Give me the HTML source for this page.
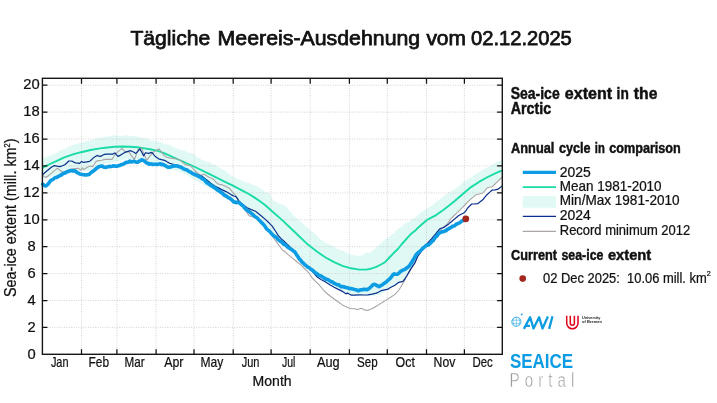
<!DOCTYPE html>
<html lang="de"><head><meta charset="utf-8"><title>Tägliche Meereis-Ausdehnung</title>
<style>html,body{margin:0;padding:0;background:#fff;overflow:hidden}body{width:717px;height:403px;font-family:"Liberation Sans",sans-serif}svg{display:block;will-change:transform}text{stroke:#111;stroke-width:.24px}text.b{stroke-width:.45px}</style>
</head><body>
<svg width="717" height="403" viewBox="0 0 717 403" font-family="Liberation Sans, sans-serif">
<rect x="0" y="0" width="717" height="403" fill="#ffffff"/>
<polygon points="42.2,158.5 43.5,157.6 44.7,157.7 46.0,157.1 47.3,156.3 48.5,156.0 49.8,155.5 51.0,155.2 52.3,154.8 53.6,153.8 54.8,153.3 56.1,153.3 57.4,152.4 58.6,151.7 59.9,150.2 61.2,150.0 62.4,149.7 63.7,148.9 65.0,148.9 66.2,148.4 67.5,147.2 68.7,146.6 70.0,146.4 71.3,146.1 72.5,145.1 73.8,144.4 75.1,144.2 76.3,143.7 77.6,143.5 78.9,143.3 80.1,143.1 81.4,142.6 82.6,142.3 83.9,141.9 85.2,141.8 86.4,141.4 87.7,140.9 89.0,141.1 90.2,140.6 91.5,140.3 92.8,139.6 94.0,139.7 95.3,139.2 96.6,138.2 97.8,137.9 99.1,138.0 100.3,137.8 101.6,137.7 102.9,137.2 104.1,137.3 105.4,137.0 106.7,136.5 107.9,136.5 109.2,136.5 110.5,136.2 111.7,135.8 113.0,135.6 114.2,135.0 115.5,135.3 116.8,135.8 118.0,135.7 119.3,135.7 120.6,136.0 121.8,135.9 123.1,135.8 124.4,135.4 125.6,135.3 126.9,135.4 128.2,135.8 129.4,135.8 130.7,135.9 131.9,136.1 133.2,135.8 134.5,135.9 135.7,136.5 137.0,136.7 138.3,136.8 139.5,137.1 140.8,137.3 142.1,137.7 143.3,138.2 144.6,138.1 145.8,138.0 147.1,138.9 148.4,139.2 149.6,140.1 150.9,140.8 152.2,140.7 153.4,140.8 154.7,140.8 156.0,141.2 157.2,141.7 158.5,141.2 159.8,141.9 161.0,142.4 162.3,143.0 163.5,143.5 164.8,144.1 166.1,144.3 167.3,144.6 168.6,144.8 169.9,144.9 171.1,146.0 172.4,146.5 173.7,146.9 174.9,147.7 176.2,148.3 177.4,148.6 178.7,149.0 180.0,149.5 181.2,149.9 182.5,150.3 183.8,150.6 185.0,150.7 186.3,151.4 187.6,151.8 188.8,152.6 190.1,153.1 191.4,153.3 192.6,153.5 193.9,153.8 195.1,154.8 196.4,156.6 197.7,157.6 198.9,158.1 200.2,158.9 201.5,159.4 202.7,160.3 204.0,160.4 205.3,160.7 206.5,161.4 207.8,161.7 209.0,162.1 210.3,162.7 211.6,163.5 212.8,163.8 214.1,164.4 215.4,165.5 216.6,166.0 217.9,166.7 219.2,167.5 220.4,167.9 221.7,168.9 223.0,169.6 224.2,170.2 225.5,170.8 226.7,172.3 228.0,173.2 229.3,174.1 230.5,175.4 231.8,176.2 233.1,176.3 234.3,176.9 235.6,177.6 236.9,178.5 238.1,178.7 239.4,179.6 240.6,180.1 241.9,180.6 243.2,180.9 244.4,181.9 245.7,182.2 247.0,182.4 248.2,182.7 249.5,183.5 250.8,183.7 252.0,184.4 253.3,184.8 254.6,185.6 255.8,185.8 257.1,186.5 258.3,187.6 259.6,188.1 260.9,188.5 262.1,189.7 263.4,190.2 264.7,191.5 265.9,192.1 267.2,192.5 268.5,193.1 269.7,193.5 271.0,196.7 272.2,198.9 273.5,200.7 274.8,201.6 276.0,201.9 277.3,202.1 278.6,203.2 279.8,203.8 281.1,204.1 282.4,204.5 283.6,205.0 284.9,205.5 286.2,206.2 287.4,208.2 288.7,209.7 289.9,211.2 291.2,212.5 292.5,214.3 293.7,215.4 295.0,216.8 296.3,217.7 297.5,219.2 298.8,220.3 300.1,220.7 301.3,222.0 302.6,223.2 303.8,224.7 305.1,225.7 306.4,226.5 307.6,227.5 308.9,228.8 310.2,230.0 311.4,231.1 312.7,231.7 314.0,233.1 315.2,234.0 316.5,235.0 317.8,236.8 319.0,237.7 320.3,239.4 321.5,239.8 322.8,240.8 324.1,242.2 325.3,242.5 326.6,243.4 327.9,243.8 329.1,244.6 330.4,244.8 331.7,245.4 332.9,246.1 334.2,247.2 335.4,247.7 336.7,248.5 338.0,249.1 339.2,249.1 340.5,250.0 341.8,250.3 343.0,250.8 344.3,251.3 345.6,252.4 346.8,252.8 348.1,253.4 349.4,253.5 350.6,254.2 351.9,254.8 353.1,254.9 354.4,255.4 355.7,255.5 356.9,255.6 358.2,255.8 359.5,256.2 360.7,255.5 362.0,255.3 363.3,254.4 364.5,253.4 365.8,252.8 367.0,252.9 368.3,252.6 369.6,253.3 370.8,251.9 372.1,250.9 373.4,250.4 374.6,248.7 375.9,247.7 377.2,247.2 378.4,245.8 379.7,244.6 381.0,243.4 382.2,242.2 383.5,241.2 384.7,239.5 386.0,239.1 387.3,237.8 388.5,237.3 389.8,236.4 391.1,235.1 392.3,234.2 393.6,233.4 394.9,231.9 396.1,231.0 397.4,229.4 398.6,228.3 399.9,228.0 401.2,226.4 402.4,225.7 403.7,224.6 405.0,223.6 406.2,222.6 407.5,222.5 408.8,221.9 410.0,221.3 411.3,219.8 412.6,219.0 413.8,218.3 415.1,217.7 416.3,216.3 417.6,215.3 418.9,214.2 420.1,212.8 421.4,212.0 422.7,211.1 423.9,210.4 425.2,209.5 426.5,208.8 427.7,208.5 429.0,207.2 430.2,206.5 431.5,205.7 432.8,205.0 434.0,203.7 435.3,202.7 436.6,201.6 437.8,200.6 439.1,200.0 440.4,199.0 441.6,197.6 442.9,196.7 444.2,195.8 445.4,194.9 446.7,194.1 447.9,193.1 449.2,192.2 450.5,191.7 451.7,190.8 453.0,190.4 454.3,189.3 455.5,188.2 456.8,187.6 458.1,186.4 459.3,185.7 460.6,184.4 461.8,183.7 463.1,182.2 464.4,181.6 465.6,180.9 466.9,179.5 468.2,179.3 469.4,177.9 470.7,177.4 472.0,176.8 473.2,175.9 474.5,174.8 475.8,173.8 477.0,173.4 478.3,172.9 479.5,171.7 480.8,171.3 482.1,170.1 483.3,169.8 484.6,168.5 485.9,167.9 487.1,167.6 488.4,166.8 489.7,166.3 490.9,165.6 492.2,164.9 493.4,164.2 494.7,163.3 496.0,162.8 497.2,161.9 498.5,161.6 499.8,160.9 501.0,159.9 502.4,159.3 502.4,177.4 501.0,178.7 499.8,179.6 498.5,180.9 497.2,182.0 496.0,182.8 494.7,184.2 493.4,184.9 492.2,186.0 490.9,186.7 489.7,187.0 488.4,187.5 487.1,188.1 485.9,189.2 484.6,190.7 483.3,192.0 482.1,192.9 480.8,193.1 479.5,193.3 478.3,193.7 477.0,194.7 475.8,194.7 474.5,196.0 473.2,197.1 472.0,197.9 470.7,199.2 469.4,200.5 468.2,201.5 466.9,203.2 465.6,204.1 464.4,205.6 463.1,206.9 461.8,207.9 460.6,209.5 459.3,210.8 458.1,211.6 456.8,213.2 455.5,214.5 454.3,215.5 453.0,216.8 451.7,218.2 450.5,219.0 449.2,221.4 447.9,223.3 446.7,224.6 445.4,225.7 444.2,226.7 442.9,227.3 441.6,228.4 440.4,229.4 439.1,230.4 437.8,231.7 436.6,233.2 435.3,234.4 434.0,236.2 432.8,237.6 431.5,239.0 430.2,240.6 429.0,241.8 427.7,243.7 426.5,245.0 425.2,246.7 423.9,248.1 422.7,249.4 421.4,250.5 420.1,252.3 418.9,254.3 417.6,256.2 416.3,259.6 415.1,262.3 413.8,264.1 412.6,266.2 411.3,268.0 410.0,270.3 408.8,272.6 407.5,274.9 406.2,276.5 405.0,278.5 403.7,280.1 402.4,281.7 401.2,281.7 399.9,282.3 398.6,282.7 397.4,283.4 396.1,284.7 394.9,285.8 393.6,286.2 392.3,286.6 391.1,287.5 389.8,288.1 388.5,289.1 387.3,290.0 386.0,290.6 384.7,291.6 383.5,292.5 382.2,293.8 381.0,294.8 379.7,295.0 378.4,294.8 377.2,295.1 375.9,295.6 374.6,295.5 373.4,296.1 372.1,295.8 370.8,295.8 369.6,296.3 368.3,296.1 367.0,296.2 365.8,296.0 364.5,295.8 363.3,295.6 362.0,295.7 360.7,295.5 359.5,295.5 358.2,295.7 356.9,295.6 355.7,295.4 354.4,295.4 353.1,295.0 351.9,294.9 350.6,294.5 349.4,294.3 348.1,293.6 346.8,293.0 345.6,292.6 344.3,292.3 343.0,291.8 341.8,291.1 340.5,290.0 339.2,289.7 338.0,289.2 336.7,288.3 335.4,287.7 334.2,286.6 332.9,285.8 331.7,285.0 330.4,284.3 329.1,283.7 327.9,282.7 326.6,281.9 325.3,281.2 324.1,280.1 322.8,279.5 321.5,278.2 320.3,277.9 319.0,276.7 317.8,275.8 316.5,274.7 315.2,274.0 314.0,272.7 312.7,271.9 311.4,270.8 310.2,269.9 308.9,268.6 307.6,267.8 306.4,266.8 305.1,265.3 303.8,264.0 302.6,263.2 301.3,261.6 300.1,260.6 298.8,259.2 297.5,257.0 296.3,255.4 295.0,253.8 293.7,252.2 292.5,251.2 291.2,250.5 289.9,249.2 288.7,248.3 287.4,247.6 286.2,246.7 284.9,245.5 283.6,244.9 282.4,243.8 281.1,242.7 279.8,241.9 278.6,241.0 277.3,240.0 276.0,238.5 274.8,237.7 273.5,236.4 272.2,235.3 271.0,234.3 269.7,233.0 268.5,231.9 267.2,230.7 265.9,229.1 264.7,227.7 263.4,226.5 262.1,224.6 260.9,223.3 259.6,221.8 258.3,220.7 257.1,219.9 255.8,218.7 254.6,217.5 253.3,216.7 252.0,215.7 250.8,214.5 249.5,213.5 248.2,212.2 247.0,211.3 245.7,210.1 244.4,209.4 243.2,208.3 241.9,207.2 240.6,205.8 239.4,204.8 238.1,203.6 236.9,203.3 235.6,202.8 234.3,202.5 233.1,202.1 231.8,202.0 230.5,200.8 229.3,200.2 228.0,199.4 226.7,198.4 225.5,197.9 224.2,196.7 223.0,196.1 221.7,195.2 220.4,194.5 219.2,193.4 217.9,193.1 216.6,192.1 215.4,191.2 214.1,190.6 212.8,190.1 211.6,189.2 210.3,188.6 209.0,188.1 207.8,187.6 206.5,186.9 205.3,186.3 204.0,185.5 202.7,184.8 201.5,183.8 200.2,182.8 198.9,182.3 197.7,181.4 196.4,181.0 195.1,180.2 193.9,179.3 192.6,178.4 191.4,177.7 190.1,177.4 188.8,176.0 187.6,175.5 186.3,174.8 185.0,173.8 183.8,173.2 182.5,173.0 181.2,172.2 180.0,171.5 178.7,171.4 177.4,170.5 176.2,170.9 174.9,170.2 173.7,170.4 172.4,169.9 171.1,169.8 169.9,169.5 168.6,169.8 167.3,169.5 166.1,169.6 164.8,168.5 163.5,167.7 162.3,167.2 161.0,166.2 159.8,165.2 158.5,165.1 157.2,164.2 156.0,163.7 154.7,163.4 153.4,162.6 152.2,162.7 150.9,162.0 149.6,162.2 148.4,161.7 147.1,161.2 145.8,160.2 144.6,159.9 143.3,159.4 142.1,159.1 140.8,159.1 139.5,159.3 138.3,159.6 137.0,159.6 135.7,159.5 134.5,159.4 133.2,159.4 131.9,159.5 130.7,159.1 129.4,159.4 128.2,158.9 126.9,159.3 125.6,159.2 124.4,159.9 123.1,160.0 121.8,160.3 120.6,160.8 119.3,161.3 118.0,161.6 116.8,161.7 115.5,161.9 114.2,162.4 113.0,162.6 111.7,162.6 110.5,163.1 109.2,163.2 107.9,163.7 106.7,163.7 105.4,163.9 104.1,164.3 102.9,164.9 101.6,165.4 100.3,165.5 99.1,166.4 97.8,166.9 96.6,167.3 95.3,168.3 94.0,169.0 92.8,169.8 91.5,170.1 90.2,170.5 89.0,170.9 87.7,170.8 86.4,171.2 85.2,171.5 83.9,171.3 82.6,171.1 81.4,171.3 80.1,171.2 78.9,171.1 77.6,171.1 76.3,170.8 75.1,170.7 73.8,170.5 72.5,170.6 71.3,170.9 70.0,170.7 68.7,171.0 67.5,171.4 66.2,171.7 65.0,172.0 63.7,172.8 62.4,173.3 61.2,173.7 59.9,174.0 58.6,174.4 57.4,174.6 56.1,175.2 54.8,175.6 53.6,176.0 52.3,176.2 51.0,176.8 49.8,177.2 48.5,177.8 47.3,177.8 46.0,178.3 44.7,178.8 43.5,178.8 42.2,178.5" fill="#e0f9f5"/>
<path d="M42.4,327.4H502.3M42.4,300.5H502.3M42.4,273.6H502.3M42.4,246.7H502.3M42.4,219.8H502.3M42.4,192.9H502.3M42.4,165.9H502.3M42.4,139.0H502.3M42.4,112.1H502.3M42.4,85.2H502.3M81.5,78.3V354.4M116.9,78.3V354.4M156.1,78.3V354.4M194.0,78.3V354.4M233.2,78.3V354.4M271.1,78.3V354.4M310.2,78.3V354.4M349.4,78.3V354.4M387.3,78.3V354.4M426.5,78.3V354.4M464.4,78.3V354.4" stroke="#c9c9c9" stroke-width="0.8" stroke-dasharray="1,1.4" fill="none"/>
<polyline points="42.2,168.2 43.4,167.4 50.0,164.0 56.9,160.8 65.0,157.2 73.8,154.2 81.0,152.2 90.6,150.0 100.0,148.4 107.5,147.5 114.9,146.8 122.0,146.5 129.8,146.7 137.0,147.3 144.7,148.4 150.0,149.3 156.6,150.6 160.1,151.6 164.6,153.4 175.0,158.0 184.0,162.0 193.9,166.5 209.1,173.9 226.0,182.3 231.9,185.2 242.8,190.8 248.8,194.0 254.6,197.6 260.0,201.3 265.6,205.5 271.2,210.5 282.5,220.4 291.0,228.5 299.4,236.5 307.9,244.6 317.2,251.8 325.6,257.5 334.1,262.2 342.5,265.9 351.0,268.3 359.4,269.6 366.1,269.6 371.0,268.7 376.3,266.9 381.0,264.5 385.0,262.2 389.0,258.0 393.4,253.3 397.9,249.0 401.9,244.0 410.3,234.6 415.0,230.8 418.8,227.0 426.9,220.0 431.3,217.6 436.5,214.8 443.3,210.0 445.6,208.2 454.1,201.5 462.5,194.2 471.0,187.1 479.4,181.7 487.8,177.0 496.3,172.8 502.4,170.3" fill="none" stroke="#19dba6" stroke-width="1.9" stroke-linejoin="round"/>
<polyline points="42.8,175.5 44.5,176.6 46.0,177.5 49.0,175.2 51.9,172.8 54.7,170.4 57.4,168.3 60.0,170.2 62.8,172.3 66.0,171.2 69.0,169.7 72.8,168.8 75.8,168.5 78.7,168.3 80.7,170.3 82.2,167.8 83.7,169.6 85.7,168.2 87.7,167.0 90.6,166.0 92.6,166.6 94.4,164.0 96.1,161.4 98.8,160.6 101.6,160.2 105.0,159.4 112.0,159.4 113.5,157.0 114.9,154.4 118.4,151.3 121.9,148.4 123.4,150.0 124.9,151.4 128.8,151.9 131.5,155.6 134.3,159.6 136.3,154.5 138.3,149.4 141.7,148.4 144.2,154.4 146.7,160.3 149.7,156.3 152.7,152.4 155.9,150.6 159.1,148.9 161.3,151.9 163.6,154.9 166.6,157.3 170.8,158.1 175.0,158.8 179.5,159.7 182.4,162.2 185.4,164.6 190.5,165.8 193.9,169.5 197.3,173.0 200.6,175.2 204.0,174.2 206.5,175.8 209.1,177.3 211.6,178.6 214.1,179.8 215.8,181.8 217.5,183.7 220.0,184.4 222.6,184.9 226.0,186.5 229.3,188.2 231.9,191.4 234.4,194.1 236.1,196.0 238.2,199.4 240.3,202.7 244.5,209.0 248.8,215.4 251.3,216.7 255.0,216.8 260.0,221.0 265.0,226.6 270.0,232.2 272.5,235.8 274.9,239.9 278.7,245.0 282.5,250.0 285.1,251.8 288.5,254.9 291.9,257.7 296.0,261.0 300.3,264.4 304.5,268.5 308.8,272.8 312.1,277.9 315.5,281.3 318.9,284.7 322.2,288.5 325.6,292.3 329.8,295.7 334.1,299.0 338.3,302.0 342.5,304.9 346.7,306.9 351.0,308.8 354.3,308.8 357.7,309.5 361.1,308.3 364.0,309.6 367.0,310.5 370.0,309.6 372.9,308.3 376.2,306.3 379.6,304.1 383.0,302.0 386.4,299.9 390.7,297.3 395.0,294.4 398.9,290.0 401.4,286.0 403.9,281.8 406.8,276.2 410.8,269.2 414.8,263.2 417.8,256.4 422.0,250.6 427.9,242.3 431.9,238.6 434.9,235.2 438.4,232.0 441.8,228.9 444.8,226.2 447.8,223.4 449.2,221.2 450.7,218.9 452.7,217.0 454.7,215.0 456.7,213.2 459.1,210.8 462.5,207.4 465.9,204.0 468.4,201.4 471.0,198.9 473.5,196.8 476.0,194.7 479.4,194.0 482.8,193.0 484.9,190.6 487.0,188.0 489.5,187.3 492.0,186.8 495.0,184.0 498.0,181.2 500.2,179.0 502.4,177.0" fill="none" stroke="#aaa4a4" stroke-width="1.1" stroke-linejoin="round"/>
<polyline points="42.8,174.5 45.0,172.5 48.0,170.0 51.0,167.5 53.9,165.7 57.0,166.2 59.9,166.6 62.5,165.8 64.8,164.8 66.8,163.0 68.8,161.0 70.8,161.0 72.8,161.4 74.3,162.4 75.7,163.0 77.7,163.1 79.7,163.3 80.7,162.2 81.7,161.6 82.7,162.2 83.7,162.3 86.6,161.9 89.6,161.4 91.5,159.8 93.0,158.2 94.6,156.9 97.1,155.4 98.8,156.2 100.6,156.4 102.5,155.2 104.5,154.4 107.0,154.2 110.0,154.0 112.9,154.1 114.9,152.9 116.4,154.6 117.9,156.4 120.0,155.4 122.5,153.8 124.9,152.4 128.0,151.4 130.8,150.7 133.5,152.0 135.8,153.4 137.8,151.4 139.8,148.9 141.8,152.2 143.7,155.9 144.7,154.0 145.7,152.7 147.2,153.2 148.7,153.4 150.2,152.8 151.7,152.4 153.2,154.0 154.7,155.9 156.7,157.5 158.6,158.8 161.5,159.6 164.6,160.3 167.0,161.8 169.6,163.3 172.3,164.0 175.0,164.8 178.0,166.2 182.0,167.5 186.0,169.5 190.0,171.5 194.0,173.3 198.0,174.8 202.3,176.4 206.5,179.8 210.8,183.2 214.0,185.4 217.5,187.4 221.7,189.6 226.0,191.6 231.0,194.6 233.8,196.0 236.1,196.8 237.4,198.6 238.6,201.0 243.0,204.6 247.1,207.8 251.3,209.6 255.5,211.2 260.5,215.2 265.6,219.6 269.0,222.8 272.4,226.4 275.4,231.0 278.3,235.6 281.2,238.6 284.2,241.5 289.0,246.0 294.3,251.2 300.3,259.6 308.8,267.6 313.0,272.0 317.2,277.1 321.4,279.7 325.6,282.1 329.8,284.7 334.1,287.2 338.3,289.4 342.5,291.4 344.5,292.8 345.9,293.9 347.6,293.1 349.4,294.2 351.0,295.1 355.0,295.2 359.4,294.8 363.6,295.0 367.8,294.8 372.0,294.1 376.3,293.1 378.8,292.0 381.3,290.6 384.7,289.8 388.1,289.2 390.0,287.7 394.9,285.3 398.9,282.3 402.9,281.3 404.8,279.0 406.8,275.8 408.8,272.4 410.8,268.9 412.8,265.8 414.8,262.9 416.3,259.5 417.8,256.0 419.8,253.5 422.5,249.5 425.5,245.8 428.9,241.8 431.9,238.4 434.9,234.8 437.4,231.7 439.8,228.9 441.8,228.0 443.8,227.4 446.3,225.7 448.8,223.9 451.7,221.5 454.7,218.9 456.7,217.2 458.7,215.5 461.2,214.2 463.7,213.0 465.5,211.4 467.6,208.2 469.6,206.0 471.8,204.0 474.7,203.9 477.7,203.7 480.2,201.8 482.8,199.8 484.9,197.2 487.0,194.7 489.5,192.4 492.0,190.2 495.0,189.8 498.0,189.2 500.2,187.6 502.4,185.8" fill="none" stroke="#0b2f8c" stroke-width="1.2" stroke-linejoin="round"/>
<polyline points="42.8,184.2 44.1,185.3 45.3,186.0 46.6,185.5 47.9,184.3 49.1,182.8 50.4,180.9 51.6,179.9 52.9,179.6 54.2,178.2 55.4,177.5 56.7,177.5 58.0,176.5 59.2,176.1 60.5,175.2 61.8,174.7 63.0,173.6 64.3,173.3 65.6,172.8 66.8,171.8 68.1,171.5 69.3,171.2 70.6,170.5 71.9,170.9 73.1,170.9 74.4,170.7 75.7,171.1 76.9,172.6 78.2,173.0 79.5,173.8 80.7,174.3 82.0,174.3 83.2,174.8 84.5,174.7 85.8,175.1 87.0,174.8 88.3,174.7 89.6,174.1 90.8,172.7 92.1,171.9 93.4,170.8 94.6,170.2 95.9,168.7 97.2,167.9 98.4,166.8 99.7,166.6 100.9,166.1 102.2,166.1 103.5,166.9 104.7,167.2 106.0,167.4 107.3,166.8 108.5,166.7 109.8,166.3 111.1,166.5 112.3,166.3 113.6,165.7 114.8,166.1 116.1,166.2 117.4,166.1 118.6,165.6 119.9,165.5 121.2,164.5 122.4,164.5 123.7,163.8 125.0,163.1 126.2,162.3 127.5,162.4 128.8,162.0 130.0,161.0 131.3,161.9 132.5,161.8 133.8,161.4 135.1,161.5 136.3,162.2 137.6,162.2 138.9,161.2 140.1,160.9 141.4,159.9 142.7,160.1 143.9,160.6 145.2,161.9 146.4,162.8 147.7,163.3 149.0,164.1 150.2,163.9 151.5,164.0 152.8,164.5 154.0,164.2 155.3,164.3 156.6,164.4 157.8,164.4 159.1,164.0 160.4,163.9 161.6,164.6 162.9,164.2 164.1,165.1 165.4,165.7 166.7,166.5 167.9,167.1 169.2,167.3 170.5,167.0 171.7,166.6 173.0,166.2 174.3,165.8 175.5,166.0 176.8,165.9 178.0,166.1 179.3,166.8 180.6,167.0 181.8,167.5 183.1,168.7 184.4,169.0 185.6,169.7 186.9,169.9 188.2,170.9 189.4,171.7 190.7,172.0 192.0,173.2 193.2,173.9 194.5,174.1 195.7,175.1 197.0,175.5 198.3,176.3 199.5,176.7 200.8,177.6 202.1,178.7 203.3,179.1 204.6,180.2 205.9,181.8 207.1,183.1 208.4,183.5 209.6,184.6 210.9,185.5 212.2,186.1 213.4,186.9 214.7,187.8 216.0,188.7 217.2,189.8 218.5,190.5 219.8,191.4 221.0,192.6 222.3,193.0 223.6,194.5 224.8,195.5 226.1,196.0 227.3,196.8 228.6,197.9 229.9,198.3 231.1,199.3 232.4,200.6 233.7,201.9 234.9,202.1 236.2,202.7 237.5,202.3 238.7,202.5 240.0,203.3 241.2,204.7 242.5,205.4 243.8,206.8 245.0,208.4 246.3,209.7 247.6,210.5 248.8,211.4 250.1,212.3 251.4,213.6 252.6,214.3 253.9,215.7 255.2,216.8 256.4,217.3 257.7,218.5 258.9,220.0 260.2,221.1 261.5,222.6 262.7,223.7 264.0,225.0 265.3,226.8 266.5,228.9 267.8,229.9 269.1,230.8 270.3,232.2 271.6,233.7 272.8,234.9 274.1,236.3 275.4,236.7 276.6,237.6 277.9,239.4 279.2,240.3 280.4,241.4 281.7,242.0 283.0,243.5 284.2,244.5 285.5,244.9 286.8,246.3 288.0,247.3 289.3,248.1 290.5,249.0 291.8,249.7 293.1,250.7 294.3,251.5 295.6,253.1 296.9,255.3 298.1,256.8 299.4,259.1 300.7,260.2 301.9,262.0 303.2,263.0 304.4,264.3 305.7,265.4 307.0,266.5 308.2,267.4 309.5,267.9 310.8,269.4 312.0,269.8 313.3,270.9 314.6,272.1 315.8,273.0 317.1,273.8 318.4,275.0 319.6,275.5 320.9,276.0 322.1,276.6 323.4,277.8 324.7,278.3 325.9,279.2 327.2,279.4 328.5,279.9 329.7,280.8 331.0,281.7 332.3,281.8 333.5,282.9 334.8,283.7 336.0,284.2 337.3,284.8 338.6,284.7 339.8,285.8 341.1,286.6 342.4,286.5 343.6,286.9 344.9,287.1 346.2,287.5 347.4,287.8 348.7,288.2 350.0,288.8 351.2,288.6 352.5,288.9 353.7,289.3 355.0,289.6 356.3,289.7 357.5,290.6 358.8,290.6 360.1,289.9 361.3,290.0 362.6,289.6 363.9,289.4 365.1,289.4 366.4,289.6 367.6,289.5 368.9,288.6 370.2,287.6 371.4,286.4 372.7,285.0 374.0,284.4 375.2,284.5 376.5,285.4 377.8,286.0 379.0,286.6 380.3,285.9 381.6,285.2 382.8,284.5 384.1,283.3 385.3,282.7 386.6,281.6 387.9,280.4 389.1,279.4 390.4,278.2 391.7,276.5 392.9,274.7 394.2,273.9 395.5,274.2 396.7,274.3 398.0,274.0 399.2,272.9 400.5,271.4 401.8,270.8 403.0,270.0 404.3,269.6 405.6,268.9 406.8,267.8 408.1,267.1 409.4,265.8 410.6,263.9 411.9,262.1 413.2,259.7 414.4,257.9 415.7,255.4 416.9,253.8 418.2,252.7 419.5,251.6 420.7,250.5 422.0,249.3 423.3,247.8 424.5,247.0 425.8,245.7 427.1,245.1 428.3,245.1 429.6,244.0 430.8,242.8 432.1,241.3 433.4,240.4 434.6,238.4 435.9,236.7 437.2,235.8 438.4,233.7 439.7,232.9 441.0,232.2 442.2,231.8 443.5,231.6 444.8,231.0 446.0,230.8 447.3,229.3 448.5,229.0 449.8,228.0 451.1,227.4 452.3,226.2 453.6,226.1 454.9,225.6 456.1,224.3 457.4,223.8 458.7,223.2 459.9,222.7 461.2,221.5 462.4,220.8 463.7,220.2 464.6,219.8" fill="none" stroke="#0c9ce4" stroke-width="3.6" stroke-linejoin="round" stroke-linecap="round"/>
<circle cx="465.8" cy="218.8" r="3.4" fill="#a3271d"/>
<rect x="42.4" y="78.3" width="459.9" height="276.0" fill="none" stroke="#161616" stroke-width="1.4"/>
<path d="M42.4,327.4h5M502.3,327.4h-5.2M42.4,300.5h5M502.3,300.5h-5.2M42.4,273.6h5M502.3,273.6h-5.2M42.4,246.7h5M502.3,246.7h-5.2M42.4,219.8h5M502.3,219.8h-5.2M42.4,192.9h5M502.3,192.9h-5.2M42.4,165.9h5M502.3,165.9h-5.2M42.4,139.0h5M502.3,139.0h-5.2M42.4,112.1h5M502.3,112.1h-5.2M42.4,85.2h5M502.3,85.2h-5.2M81.5,78.3v5.4M81.5,354.4v-5.2M116.9,78.3v5.4M116.9,354.4v-5.2M156.1,78.3v5.4M156.1,354.4v-5.2M194.0,78.3v5.4M194.0,354.4v-5.2M233.2,78.3v5.4M233.2,354.4v-5.2M271.1,78.3v5.4M271.1,354.4v-5.2M310.2,78.3v5.4M310.2,354.4v-5.2M349.4,78.3v5.4M349.4,354.4v-5.2M387.3,78.3v5.4M387.3,354.4v-5.2M426.5,78.3v5.4M426.5,354.4v-5.2M464.4,78.3v5.4M464.4,354.4v-5.2" stroke="#111" stroke-width="1.25" fill="none"/>
<text x="27.4" y="358.6" font-size="15.1" fill="#111" textLength="8.2" lengthAdjust="spacingAndGlyphs">0</text>
<text x="27.4" y="331.6" font-size="15.1" fill="#111" textLength="8.2" lengthAdjust="spacingAndGlyphs">2</text>
<text x="27.4" y="304.7" font-size="15.1" fill="#111" textLength="8.2" lengthAdjust="spacingAndGlyphs">4</text>
<text x="27.4" y="277.8" font-size="15.1" fill="#111" textLength="8.2" lengthAdjust="spacingAndGlyphs">6</text>
<text x="27.4" y="250.9" font-size="15.1" fill="#111" textLength="8.2" lengthAdjust="spacingAndGlyphs">8</text>
<text x="23.3" y="224.0" font-size="15.1" fill="#111" textLength="16.4" lengthAdjust="spacingAndGlyphs">10</text>
<text x="23.3" y="197.1" font-size="15.1" fill="#111" textLength="16.4" lengthAdjust="spacingAndGlyphs">12</text>
<text x="23.3" y="170.1" font-size="15.1" fill="#111" textLength="16.4" lengthAdjust="spacingAndGlyphs">14</text>
<text x="23.3" y="143.2" font-size="15.1" fill="#111" textLength="16.4" lengthAdjust="spacingAndGlyphs">16</text>
<text x="23.3" y="116.3" font-size="15.1" fill="#111" textLength="16.4" lengthAdjust="spacingAndGlyphs">18</text>
<text x="23.3" y="89.4" font-size="15.1" fill="#111" textLength="16.4" lengthAdjust="spacingAndGlyphs">20</text>
<text x="50.9" y="367.0" font-size="14.5" fill="#111" textLength="17.6" lengthAdjust="spacingAndGlyphs">Jan</text>
<text x="88.5" y="367.0" font-size="14.5" fill="#111" textLength="20.5" lengthAdjust="spacingAndGlyphs">Feb</text>
<text x="124.5" y="367.0" font-size="14.5" fill="#111" textLength="20.1" lengthAdjust="spacingAndGlyphs">Mar</text>
<text x="164.2" y="367.0" font-size="14.5" fill="#111" textLength="19.3" lengthAdjust="spacingAndGlyphs">Apr</text>
<text x="200.5" y="367.0" font-size="14.5" fill="#111" textLength="22.8" lengthAdjust="spacingAndGlyphs">May</text>
<text x="241.7" y="367.0" font-size="14.5" fill="#111" textLength="17.8" lengthAdjust="spacingAndGlyphs">Jun</text>
<text x="281.9" y="367.0" font-size="14.5" fill="#111" textLength="13.4" lengthAdjust="spacingAndGlyphs">Jul</text>
<text x="317" y="367.0" font-size="14.5" fill="#111" textLength="22.7" lengthAdjust="spacingAndGlyphs">Aug</text>
<text x="357.1" y="367.0" font-size="14.5" fill="#111" textLength="20.6" lengthAdjust="spacingAndGlyphs">Sep</text>
<text x="395.6" y="367.0" font-size="14.5" fill="#111" textLength="19.3" lengthAdjust="spacingAndGlyphs">Oct</text>
<text x="433.6" y="367.0" font-size="14.5" fill="#111" textLength="21.7" lengthAdjust="spacingAndGlyphs">Nov</text>
<text x="472.4" y="367.0" font-size="14.5" fill="#111" textLength="20.3" lengthAdjust="spacingAndGlyphs">Dec</text>
<text x="252.6" y="386.1" font-size="14.2" fill="#111" textLength="39" lengthAdjust="spacingAndGlyphs">Month</text>
<text transform="translate(15.6,297) rotate(-90)" font-size="16" fill="#111" textLength="158.6" lengthAdjust="spacingAndGlyphs">Sea-ice extent (mill. km<tspan font-size="8.4" dy="-6">2</tspan><tspan dy="6">)</tspan></text>
<text x="130.4" y="44.8" font-size="20.3" fill="#111" style="stroke:#111;stroke-width:.75px" textLength="79.8" lengthAdjust="spacingAndGlyphs">Tägliche</text>
<text x="217.6" y="44.8" font-size="20.3" fill="#111" style="stroke:#111;stroke-width:.75px" textLength="202.6" lengthAdjust="spacingAndGlyphs">Meereis-Ausdehnung</text>
<text x="426.4" y="44.8" font-size="20.3" fill="#111" style="stroke:#111;stroke-width:.75px" textLength="39.6" lengthAdjust="spacingAndGlyphs">vom</text>
<text x="471" y="44.8" font-size="20.3" fill="#111" style="stroke:#111;stroke-width:.75px" textLength="100.8" lengthAdjust="spacingAndGlyphs">02.12.2025</text>
<text x="510.7" y="99.3" font-size="15.7" class="b" font-weight="bold" fill="#111" textLength="49.0" lengthAdjust="spacingAndGlyphs">Sea-ice</text>
<text x="564.8" y="99.3" font-size="15.7" class="b" font-weight="bold" fill="#111" textLength="47.4" lengthAdjust="spacingAndGlyphs">extent</text>
<text x="616.6" y="99.3" font-size="15.7" class="b" font-weight="bold" fill="#111" textLength="12.2" lengthAdjust="spacingAndGlyphs">in</text>
<text x="633.8" y="99.3" font-size="15.7" class="b" font-weight="bold" fill="#111" textLength="23.6" lengthAdjust="spacingAndGlyphs">the</text>
<text x="510.7" y="113.5" font-size="15.7" class="b" font-weight="bold" fill="#111" textLength="40.4" lengthAdjust="spacingAndGlyphs">Arctic</text>
<text x="511.1" y="153.1" font-size="14.1" class="b" font-weight="bold" fill="#111" textLength="43.3" lengthAdjust="spacingAndGlyphs">Annual</text>
<text x="558.9" y="153.1" font-size="14.1" class="b" font-weight="bold" fill="#111" textLength="31.6" lengthAdjust="spacingAndGlyphs">cycle</text>
<text x="594.8" y="153.1" font-size="14.1" class="b" font-weight="bold" fill="#111" textLength="10.0" lengthAdjust="spacingAndGlyphs">in</text>
<text x="609.2" y="153.1" font-size="14.1" class="b" font-weight="bold" fill="#111" textLength="71.6" lengthAdjust="spacingAndGlyphs">comparison</text>
<path d="M522.8,172.4H556" stroke="#0c9ce4" stroke-width="3.1"/>
<text x="559.8" y="176.6" font-size="14.2" fill="#111" textLength="31" lengthAdjust="spacingAndGlyphs">2025</text>
<path d="M522.8,187.1H556" stroke="#19dba6" stroke-width="1.8"/>
<text x="559.8" y="191.1" font-size="14.2" fill="#111" textLength="101.8" lengthAdjust="spacingAndGlyphs">Mean 1981-2010</text>
<rect x="522.8" y="196.1" width="33.2" height="11.6" fill="#e0f9f5"/>
<text x="559.8" y="205.3" font-size="14.2" fill="#111" textLength="119.8" lengthAdjust="spacingAndGlyphs">Min/Max 1981-2010</text>
<path d="M522.8,216.3H556" stroke="#0b2f8c" stroke-width="1.2"/>
<text x="559.8" y="220.1" font-size="14.2" fill="#111" textLength="31" lengthAdjust="spacingAndGlyphs">2024</text>
<path d="M522.8,231.4H556" stroke="#aaa4a4" stroke-width="1.1"/>
<text x="559.8" y="234.7" font-size="14.2" fill="#111" textLength="130.4" lengthAdjust="spacingAndGlyphs">Record minimum 2012</text>
<text x="511.1" y="260.2" font-size="14.1" class="b" font-weight="bold" fill="#111" textLength="45.9" lengthAdjust="spacingAndGlyphs">Current</text>
<text x="561.5" y="260.2" font-size="14.1" class="b" font-weight="bold" fill="#111" textLength="41.9" lengthAdjust="spacingAndGlyphs">sea-ice</text>
<text x="607.9" y="260.2" font-size="14.1" class="b" font-weight="bold" fill="#111" textLength="43.3" lengthAdjust="spacingAndGlyphs">extent</text>
<circle cx="522.7" cy="278.6" r="3.3" fill="#a3271d"/>
<text x="543.1" y="282.5" font-size="14.2" fill="#111" textLength="163.6" lengthAdjust="spacingAndGlyphs" xml:space="preserve">02 Dec 2025:  10.06 mill. km</text>
<text x="706.8" y="276.4" font-size="7.2" fill="#111">2</text>
<g fill="none" stroke="#0c9ce4"><circle cx="516.4" cy="321.7" r="4.6" stroke-width="0.9" stroke-opacity="0.85"/><path d="M512.2,320.2h8.4M512.4,323.6h8M516.4,317.2v9M514.2,317.8c-1.4,2.4-1.4,5.4,0,7.8M518.6,317.8c1.4,2.4,1.4,5.4,0,7.8" stroke-width="0.55" stroke-opacity="0.8"/><path d="M523.9,328.9L530.1,317.2L533.5,328.5L539.1,317.2L542.5,328.5L547.9,316.6M549.1,328.9L552.5,316.2M525.2,325.9H530" stroke-width="2.3" stroke-linejoin="round" stroke-linecap="butt"/></g>
<circle cx="521.7" cy="314.4" r="0.9" fill="#0c9ce4"/>
<g fill="none" stroke="#e1001a" stroke-width="1.5"><path d="M566.7,315.8v7.3a5.65,5.65 0 0 0 11.3,0v-7.3"/><path d="M570.3,315.8v7.5a2.05,2.05 0 0 0 4.1,0v-7.5"/></g>
<text x="582" y="319" font-size="3.6" font-weight="bold" fill="#222" style="stroke:none" textLength="18.5" lengthAdjust="spacingAndGlyphs">University</text>
<text x="582" y="322.8" font-size="3.6" font-weight="bold" fill="#222" style="stroke:none" textLength="20" lengthAdjust="spacingAndGlyphs">of Bremen</text>
<text x="509.9" y="367.5" font-size="19.4" font-weight="bold" fill="#0c9ce4" style="stroke:none" textLength="63.3" lengthAdjust="spacingAndGlyphs">SEAICE</text>
<text id="portal" transform="translate(509.6,386.7) scale(0.78,1)" font-size="19.4" fill="#9a9a9a" style="stroke:#fff;stroke-width:.45px" letter-spacing="6.5">Portal</text>
</svg>
</body></html>
